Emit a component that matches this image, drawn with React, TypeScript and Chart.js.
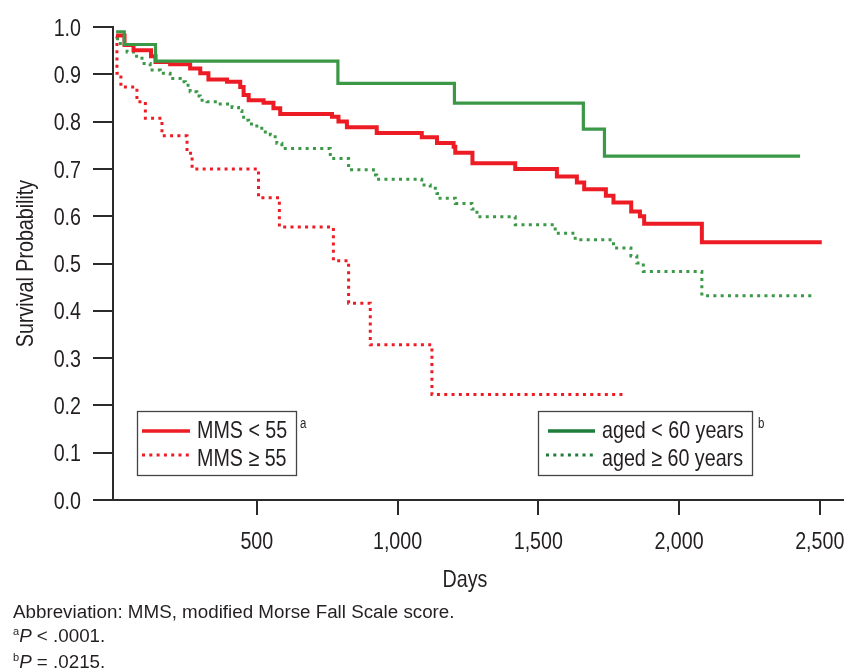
import React, { useEffect, useRef } from 'react';
import { Chart, registerables } from 'chart.js';

Chart.register(...registerables);

// ---------------- data ----------------
const xTickValues = [500, 1000, 1500, 2000, 2500];
const yTickValues = [0, 0.1, 0.2, 0.3, 0.4, 0.5, 0.6, 0.7, 0.8, 0.9, 1.0];

// MMS < 55 (solid red)
const mmsLowDays = [0, 30, 62, 124, 140, 192, 263, 299, 328, 394, 441, 453, 471, 524, 559, 583, 767, 790, 820, 926, 1086, 1140, 1199, 1205, 1266, 1418, 1566, 1637, 1663, 1740, 1767, 1830, 1861, 1876, 2081, 2507];
const mmsLowSurv = [0.982, 0.962, 0.951, 0.938, 0.926, 0.921, 0.912, 0.902, 0.889, 0.884, 0.873, 0.856, 0.845, 0.840, 0.828, 0.816, 0.810, 0.800, 0.788, 0.776, 0.767, 0.755, 0.747, 0.734, 0.712, 0.700, 0.684, 0.671, 0.657, 0.643, 0.629, 0.610, 0.600, 0.584, 0.545, 0.545];

// MMS >= 55 (dotted red)
const mmsHighDays = [0, 3, 17, 74, 104, 163, 252, 270, 506, 580, 772, 826, 903, 1122, 1802];
const mmsHighSurv = [0.98, 0.902, 0.873, 0.842, 0.807, 0.770, 0.733, 0.700, 0.639, 0.577, 0.506, 0.416, 0.328, 0.223, 0.223];

// aged < 60 years (solid green)
const ageLowDays = [0, 29, 140, 788, 1202, 1660, 1735, 2430];
const ageLowSurv = [0.990, 0.963, 0.928, 0.881, 0.839, 0.784, 0.727, 0.727];

// aged >= 60 years (dotted green)
const ageHighDays = [0, 15, 39, 62, 92, 121, 157, 192, 228, 246, 263, 287, 299, 323, 358, 412, 435, 447, 453, 471, 500, 524, 548, 559, 571, 589, 761, 826, 914, 926, 1086, 1116, 1140, 1151, 1205, 1264, 1282, 1418, 1560, 1631, 1767, 1829, 1850, 1873, 2081, 2477];
const ageHighSurv = [0.975, 0.961, 0.947, 0.938, 0.923, 0.909, 0.902, 0.891, 0.884, 0.877, 0.863, 0.854, 0.845, 0.842, 0.837, 0.830, 0.823, 0.814, 0.803, 0.795, 0.786, 0.778, 0.772, 0.768, 0.754, 0.743, 0.722, 0.698, 0.687, 0.678, 0.666, 0.659, 0.648, 0.638, 0.627, 0.615, 0.599, 0.582, 0.564, 0.550, 0.533, 0.516, 0.501, 0.483, 0.432, 0.432];

const legendLeft = ['MMS < 55', 'MMS ≥ 55'];
const legendRight = ['aged < 60 years', 'aged ≥ 60 years'];
const xTitle = 'Days';
const yTitle = 'Survival Probability';

const RED = '#ed1c24';
const GREEN = '#3a9847';
const GREEN_DARK = '#1f7d3c';
const TEXT = '#231f20';
const AXIS = '#2b2b2b';
const FAM = '"Liberation Sans", Arial, sans-serif';
const FS = 24;
const SX = 0.82; // horizontal squeeze -> condensed look

const toPts = (xs: number[], ys: number[]) => xs.map((x, i) => ({ x, y: ys[i] }));

function condText(
  ctx: CanvasRenderingContext2D,
  text: string,
  x: number,
  y: number,
  align: CanvasTextAlign,
  size = FS,
  rot = 0
) {
  ctx.save();
  ctx.translate(x, y);
  if (rot) ctx.rotate(rot);
  ctx.scale(SX, 1);
  ctx.font = `${size}px ${FAM}`;
  ctx.fillStyle = TEXT;
  ctx.textAlign = align;
  ctx.textBaseline = 'alphabetic';
  ctx.fillText(text, 0, 0);
  ctx.restore();
}

function drawSeg(ctx: CanvasRenderingContext2D, x1: number, x2: number, y: number, color: string, w: number, dash: number[]) {
  ctx.save();
  ctx.strokeStyle = color;
  ctx.lineWidth = w;
  ctx.setLineDash(dash);
  ctx.lineCap = 'butt';
  ctx.beginPath();
  ctx.moveTo(x1, y);
  ctx.lineTo(x2, y);
  ctx.stroke();
  ctx.restore();
}

const overlay = {
  id: 'kmOverlay',
  afterDraw(chart: any) {
    const ctx: CanvasRenderingContext2D = chart.ctx;
    const xs = chart.scales.x;
    const ys = chart.scales.y;
    const area = chart.chartArea;

    // tick labels, placed through the scales
    for (const t of xs.ticks) {
      const px = xs.getPixelForValue(t.value);
      condText(ctx, Number(t.value).toLocaleString('en-US'), px, area.bottom + 48.5, 'center');
    }
    for (const t of ys.ticks) {
      const py = ys.getPixelForValue(t.value);
      condText(ctx, Number(t.value).toFixed(1), area.left - 32, py + 8.6, 'right');
    }
    // axis titles
    condText(ctx, yTitle, 33, (area.top + area.bottom) / 2, 'center', FS, -Math.PI / 2);
    condText(ctx, xTitle, 465, 587, 'center');

    // legend boxes
    ctx.save();
    ctx.strokeStyle = '#444';
    ctx.lineWidth = 1.3;
    ctx.strokeRect(137.5, 411.5, 159, 64);
    ctx.strokeRect(538.5, 411.5, 214, 64);
    ctx.restore();
    drawSeg(ctx, 142, 190, 431, RED, 3.5, []);
    drawSeg(ctx, 142, 190, 455, RED, 3, [3, 4.3]);
    drawSeg(ctx, 548, 595, 431, GREEN_DARK, 3.5, []);
    drawSeg(ctx, 546, 597, 455, GREEN_DARK, 3, [3, 4.3]);
    condText(ctx, legendLeft[0], 197, 438, 'left');
    condText(ctx, legendLeft[1], 197, 466, 'left');
    condText(ctx, legendRight[0], 602, 438, 'left');
    condText(ctx, legendRight[1], 602, 466, 'left');
    condText(ctx, 'a', 300, 428, 'left', 14);
    condText(ctx, 'b', 758, 428, 'left', 14);
  },
};

export default function App() {
  const ref = useRef<HTMLCanvasElement>(null);

  useEffect(() => {
    document.body.style.margin = '0';

    const chart = new Chart(ref.current as HTMLCanvasElement, {
      type: 'line',
      data: {
        datasets: [
          {
            label: legendRight[0],
            data: toPts(ageLowDays, ageLowSurv),
            borderColor: GREEN,
            borderWidth: 3.2,
            stepped: 'before',
            pointRadius: 0,
            fill: false,
            order: 1,
          },
          {
            label: legendLeft[0],
            data: toPts(mmsLowDays, mmsLowSurv),
            borderColor: RED,
            borderWidth: 4,
            stepped: 'before',
            pointRadius: 0,
            fill: false,
            order: 2,
          },
          {
            label: legendRight[1],
            data: toPts(ageHighDays, ageHighSurv),
            borderColor: GREEN,
            borderWidth: 3,
            borderDash: [3, 4.3],
            stepped: 'before',
            pointRadius: 0,
            fill: false,
            order: 3,
          },
          {
            label: legendLeft[1],
            data: toPts(mmsHighDays, mmsHighSurv),
            borderColor: RED,
            borderWidth: 3,
            borderDash: [3, 4.3],
            stepped: 'before',
            pointRadius: 0,
            fill: false,
            order: 4,
          },
        ],
      },
      options: {
        animation: false,
        responsive: false,
        devicePixelRatio: 1,
        layout: { padding: { top: 27, left: 0, right: 0, bottom: 0 } },
        plugins: {
          legend: { display: false },
          tooltip: { enabled: false },
          title: { display: false },
        },
        scales: {
          x: {
            type: 'linear',
            min: -11,
            max: 2586,
            afterBuildTicks: (s: any) => {
              s.ticks = xTickValues.map((v) => ({ value: v }));
            },
            afterFit: (s: any) => {
              s.height = 171;
              s.paddingLeft = 0;
              s.paddingRight = 0;
            },
            ticks: { display: false },
            grid: { drawOnChartArea: false, drawTicks: true, tickLength: 15, color: AXIS, lineWidth: 2 },
            border: { display: true, color: AXIS, width: 2 },
          },
          y: {
            type: 'linear',
            min: 0,
            max: 1,
            afterBuildTicks: (s: any) => {
              s.ticks = yTickValues.map((v) => ({ value: v }));
            },
            afterFit: (s: any) => {
              s.width = 113;
              s.paddingTop = 0;
              s.paddingBottom = 0;
            },
            ticks: { display: false },
            grid: { drawOnChartArea: false, drawTicks: true, tickLength: 20, color: AXIS, lineWidth: 2 },
            border: { display: true, color: AXIS, width: 2 },
          },
        },
      },
      plugins: [overlay],
    } as any);

    return () => chart.destroy();
  }, []);

  const noteFont = '18.8px "Liberation Sans", Arial, sans-serif';
  const supStyle: React.CSSProperties = { fontSize: 11, position: 'relative', top: -7 };

  return (
    <div style={{ position: 'relative', width: 844, height: 671, overflow: 'hidden', background: '#fff' }}>
      <canvas ref={ref} width={844} height={671} style={{ display: 'block', width: 844, height: 671 }} />
      <div
        style={{
          position: 'absolute',
          left: 13,
          top: 600,
          font: noteFont,
          lineHeight: '23.5px',
          color: TEXT,
          whiteSpace: 'nowrap',
        }}
      >
        <div>Abbreviation: MMS, modified Morse Fall Scale score.</div>
        <div>
          <span style={supStyle}>a</span>
          <i>P</i> &lt; .0001.
        </div>
        <div>
          <span style={supStyle}>b</span>
          <i>P</i> = .0215.
        </div>
      </div>
    </div>
  );
}
